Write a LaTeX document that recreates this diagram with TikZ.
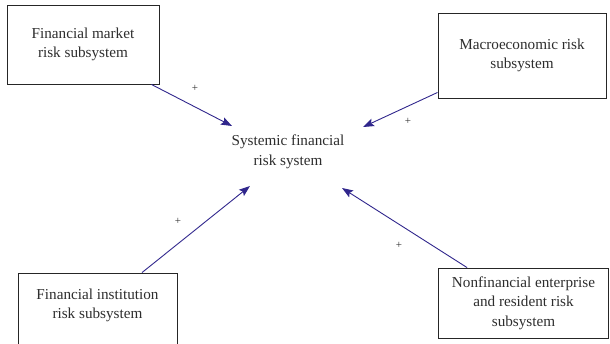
\documentclass[tikz,border=0pt]{standalone}
\usepackage{fontspec}
\setmainfont{Liberation Serif}
\usetikzlibrary{arrows.meta}
\definecolor{arrowblue}{RGB}{48,38,140}
\definecolor{txt}{RGB}{45,45,45}
\begin{document}
\begin{tikzpicture}[x=1pt,y=-1pt,
  box/.style={draw=black!85,line width=0.9pt,rectangle,align=center,text=txt,inner sep=0pt,
    font=\fontsize{15.2}{19.5}\selectfont},
  lbl/.style={text=txt,align=center,font=\fontsize{15.2}{19.5}\selectfont},
  plus/.style={text=txt,font=\fontsize{11}{12}\selectfont,inner sep=0pt},
  arr/.style={draw=arrowblue,line width=0.9pt,-{Stealth[length=11pt,width=8pt,inset=2pt]}}]
\useasboundingbox (0,0) rectangle (610,343);
\clip (0,0) rectangle (610,343);
\node[box,minimum width=152pt,minimum height=79pt] (fm) at (83,44.5) {Financial market\\risk subsystem};
\node[box,minimum width=168pt,minimum height=85pt] (macro) at (522,55.5) {Macroeconomic risk\\subsystem};
\node[box,minimum width=159pt,minimum height=75pt,text depth=14pt] (fi) at (97.5,310.5) {Financial institution\\risk subsystem};
\node[box,minimum width=170pt,minimum height=70pt] (nf) at (523.5,303) {Nonfinancial enterprise\\and resident risk\\subsystem};
\node[lbl] (sys) at (288,152) {Systemic financial\\risk system};
\coordinate (t1) at (232,126);
\coordinate (t2) at (363,127);
\coordinate (t3) at (250,186);
\coordinate (t4) at (342,188);
\draw[arr] ([xshift=-8pt]fm.south east) -- (t1);
\draw[arr] ([yshift=6pt]macro.south west) -- (t2);
\draw[arr] ([xshift=44.5pt]fi.north) -- (t3);
\draw[arr] ([xshift=29pt]nf.north west) -- (t4);
\node[plus] (p1) at (195,88) {+};
\node[plus] (p2) at (408,121) {+};
\node[plus] (p3) at (178,221) {+};
\node[plus] (p4) at (399,245) {+};
\end{tikzpicture}
\end{document}
